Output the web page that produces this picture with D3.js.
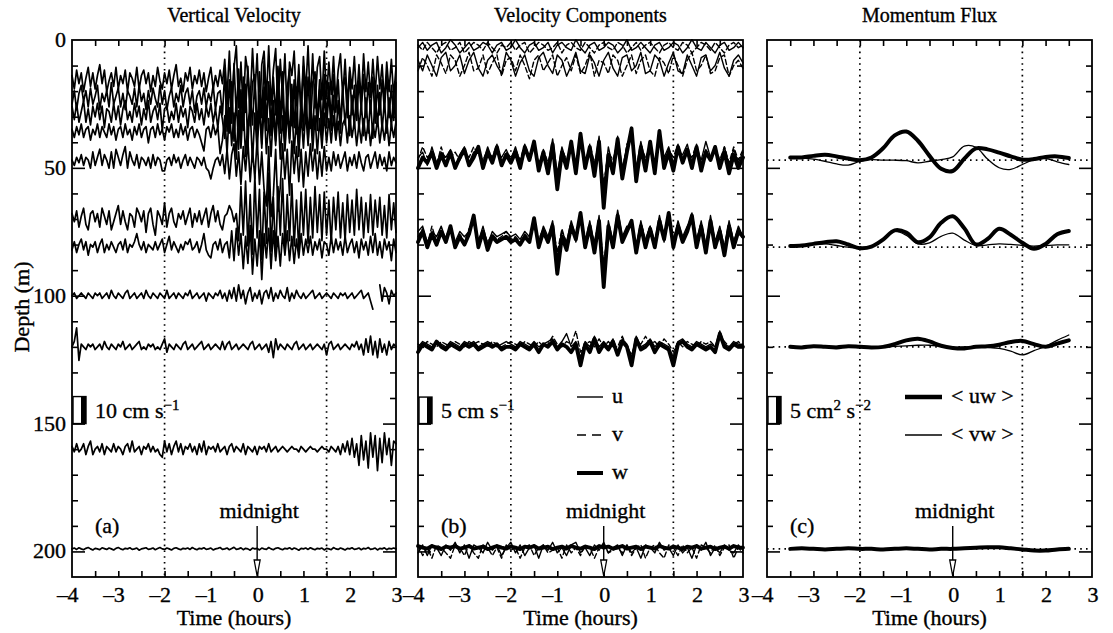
<!DOCTYPE html>
<html><head><meta charset="utf-8">
<script src="https://cdn.jsdelivr.net/npm/d3@7"></script>
<style>
body{margin:0;background:#fff;}
svg text{font-family:"Liberation Serif","Times New Roman",serif;fill:#000;stroke:#000;stroke-width:0.35px;}
</style></head><body>
<svg id="fig" width="1113" height="633"></svg>
<script>
// ---------------- labels and ticks ----------------
const timeTicks = [-4, -3, -2, -1, 0, 1, 2, 3];
const depthTicks = [0, 50, 100, 150, 200];
const guideTimes = [-2, 1.5];
const panelTitles = ["Vertical Velocity", "Velocity Components", "Momentum Flux"];
const panelTags = ["(a)", "(b)", "(c)"];

// ---------------- (a) vertical velocity, cm/s, every 0.05 h from -4 h ----------------
const wDepths = [16, 23, 29, 36, 48, 70, 81, 100, 120, 160, 199];
const w16 = [2,-3,4,-1,3,-4,1,5,-2,3,-3,2,6,-1,4,-4,0,3,-2,5,
 -3,2,-1,4,-4,3,1,-2,5,-3,2,4,-1,3,-4,2,-2,5,0,-3,
 3,-1,4,-3,2,6,-2,1,-4,3,0,5,-3,2,-1,4,-2,3,-4,1,
 5,-3,2,-2,4,-1,
 8,-6,11,-9,5,13,-10,7,-12,9,3,-8,12,-5,10,-14,6,11,-7,13,
 -9,4,12,-11,8,-6,10,-13,7,2,11,-9,6,-12,9,-4,13,-8,10,-10,
 5,9,-7,11,-6,
 7,-5,9,-8,4,10,-6,8,-9,5,-3,9,-7,6,-8,10,-4,7,-6,8,
 -5,9,-3,6,-8,7,-4,8,-6,5];
const w23 = [-2,3,-4,2,5,-1,3,-3,4,-2,1,5,-4,2,-1,3,-3,6,-2,1,
 4,-3,2,-4,3,1,-2,4,-3,5,-1,2,-4,3,-2,4,0,-3,5,-2,
 3,-4,1,4,-3,2,-1,5,-3,2,4,-2,3,-5,1,3,-2,4,-3,2,
 -1,5,-4,2,3,-6,
 10,-12,7,-9,13,-6,11,-14,8,-5,12,-10,6,9,-13,10,-7,14,-9,5,
 -11,8,-6,12,-8,10,-12,4,11,-10,7,-13,9,-5,12,-9,8,-11,6,10,
 -8,7,-12,9,-7,
 6,-8,9,-5,7,-9,4,8,-7,10,-6,5,-8,7,-4,9,-7,6,-5,8,
 -9,5,-6,7,-4,9,-7,5,-8,6];
const w29 = [3,-2,4,-3,1,5,-3,2,-4,3,-1,4,-2,3,-5,2,1,-3,4,-2,
 3,-4,2,5,-2,1,-3,4,-1,3,-4,2,-2,5,-3,1,3,-2,4,-6,
 2,3,-3,1,-2,4,-3,3,-1,2,-5,3,1,-3,4,-2,2,-4,3,-1,
 4,-3,2,-5,3,-2,
 -9,11,-7,12,-10,6,-13,9,-6,11,-12,8,-4,13,-9,7,-11,10,-6,12,
 -8,5,-10,13,-7,9,-12,6,-9,11,-5,10,-13,8,-6,12,-10,7,-8,11,
 -6,9,-10,8,-5,
 8,-6,7,-9,5,-7,9,-4,6,-8,7,-5,9,-6,4,-8,6,-7,5,-9,
 7,-4,8,-6,5,-7,6,-5,8,-4];
const w36 = [1,-2,2,-1,3,-2,1,2,-3,1,-1,3,-2,2,0,-2,3,-1,2,-3,
 1,2,-2,3,-1,1,-3,2,-1,3,-2,1,2,-4,1,2,-2,3,-1,1,
 -3,2,0,3,-2,1,-2,3,-1,2,-3,1,2,-2,1,-1,-4,-7,1,2,
 -2,3,-1,2,-8,-3,
 6,-8,9,-5,7,-10,8,-6,10,-9,4,8,-11,7,-7,9,-6,10,-8,5,
 -9,7,-5,9,-10,6,-7,8,-4,10,-8,6,-9,7,-6,8,-5,9,-7,6,
 -8,5,-6,7,-4,
 5,-4,6,-3,4,-5,3,5,-4,6,-2,4,-5,3,-4,5,-3,4,-5,3,
 -2,5,-4,3,-3,4,-5,3,-2,4];
const w48 = [1,-1,2,0,3,-1,2,1,-2,4,-1,2,5,-1,3,1,-2,4,-2,5,
 2,-1,3,6,-2,4,1,-1,3,-2,2,1,-1,2,-2,3,-1,2,1,-3,
 -3,1,2,-1,3,0,2,-2,1,3,-1,2,0,-2,2,1,-1,2,-2,-3,
 -6,-2,1,2,-1,3,
 -4,5,-6,3,7,-5,4,-8,6,-3,8,-7,5,-6,9,-8,4,-10,-16,6,
 -20,-12,5,-18,-9,7,-6,5,-12,8,-4,6,-7,5,-9,4,-5,7,-3,5,
 -6,4,-5,6,-3,
 2,-3,4,-1,3,-2,1,4,-3,2,-1,3,-2,4,0,-3,2,3,-2,1,
 4,-2,3,-1,2,-3,4,-1,2,0];
const w70 = [2,-1,3,-3,1,4,-2,-4,2,3,-1,2,-3,4,1,-2,3,-4,-1,2,
 5,-2,3,-1,-4,2,1,-3,4,2,-1,3,-5,2,4,-2,-6,3,1,-2,
 6,-3,2,4,-1,-3,2,0,3,-2,1,4,-3,2,-1,3,-2,1,4,-3,
 2,5,-1,3,-2,-4,1,2,5,3,-1,2,
 -8,12,-6,14,-10,9,-13,16,-7,11,-15,10,-9,17,-12,8,-14,12,-6,15,
 -11,9,-8,13,-10,7,-12,10,-6,11,-9,8,-7,12,-5,9,-8,10,-6,7,
 -9,8,-4,10,-7,6,-8,9,-5,7,-6,11,-4,8,-7,6,-5,9,-6,7,
 -3,8,-6,5,-7,9,-4,6,-5];
const w81 = [-1,2,-2,1,3,-1,2,-3,1,0,2,-2,1,3,-2,1,-1,2,0,-2,
 1,2,-1,3,-2,1,0,2,5,1,-1,2,-2,1,0,-1,2,-1,1,3,
 -2,1,4,-1,2,0,-2,1,-1,2,1,3,-1,0,2,-2,1,5,-1,-3,
 -4,1,2,-1,3,-2,1,2,
 -4,6,-5,7,-3,5,-8,4,-6,8,-10,3,-7,6,-12,5,-4,7,-8,6,
 -5,4,-7,5,-3,6,-5,4,-6,3,-4,5,-3,
 3,-2,4,-3,2,-1,3,-4,2,1,-3,4,-2,3,-1,2,-3,4,-2,1,
 3,-2,2,-4,3,-1,2,-3,4,-2,5,-3,2,-4,3,-1,2,-5,3,-2];
const w100 = [0,1,-1,0,1,0,-1,1,0,-1,1,0,1,-1,0,1,-1,2,0,-1,
 1,0,-1,1,2,-1,0,1,-1,0,1,-1,2,0,-1,1,0,-1,1,0,
 -1,2,-1,0,1,-1,1,0,-1,1,0,2,-1,0,1,-1,0,1,-2,1,
 0,-1,1,0,2,-1,1,-2,2,-1,3,-2,4,-1,2,-3,1,3,-2,1,
 -1,2,-3,1,2,-1,3,-2,1,-1,2,0,-1,3,-2,1,-1,2,0,-1,
 1,-1,0,1,2,-1,0,1,-1,0,1,0,-1,1,0,-1,1,0,1,-1,
 0,1,-1,0,1,2,-1,0,1,-2,-5,null,null,4,-2,3,1,-3,2,0,1];
const w120 = [0,2,7,-5,1,0,-1,1,0,1,-1,0,1,-1,2,0,-1,1,0,-1,
 1,0,2,-1,0,1,-1,0,1,2,-1,0,-1,1,0,1,-1,0,-1,1,
 3,-2,1,0,-1,1,0,-1,1,2,-1,0,1,-1,0,1,2,-1,0,1,
 -1,0,1,0,-1,2,-1,1,2,-1,0,1,-1,0,1,0,-1,1,2,-1,
 0,1,-1,0,1,-2,2,-4,3,-1,1,0,-1,1,0,-1,1,2,-1,0,
 1,-1,0,1,-1,0,1,0,-1,1,-3,1,2,-1,0,1,-1,0,1,0,
 -1,1,0,2,-1,1,-3,3,-2,4,-3,2,-4,3,-2,1,-3,2,-1,1,0];
const w160 = [1,-1,2,-1,0,2,-2,1,3,-2,0,1,-1,2,-2,1,0,-1,2,-1,
 1,0,-2,1,2,-1,3,-1,0,1,-2,1,0,2,-1,1,-1,0,-2,-3,
 3,-1,2,-2,1,3,-1,2,-2,1,0,2,-1,1,-2,2,-1,3,-2,1,
 0,1,-1,2,-1,0,1,-2,1,2,-1,1,0,-1,2,-2,1,0,-1,1,
 -2,1,0,1,-1,2,-1,0,1,-1,0,1,0,-1,0,1,0,0,-1,1,
 0,-1,0,1,0,0,-1,0,1,0,0,-1,1,0,-1,1,-2,2,-1,3,
 -2,4,-3,2,-6,5,-4,3,-7,6,-3,5,-8,4,-5,6,-2,4,-6,3,2];
const w199 = [0,0.3,-0.2,0.4,0,-0.3,0.2,0.5,0,-0.4,
 0.2,0,-0.3,0.4,0.1,-0.2,0.3,0,-0.4,0.2,
 0.5,0,-0.3,0.2,0,0.4,-0.2,0,0.3,-0.5,
 0,0.2,0.4,-0.2,0,0.3,-0.3,0.1,0.5,0,
 -0.2,0.3,0,-0.4,0.2,0.4,0,-0.3,0.2,0,
 0.3,-0.2,0.5,0,-0.3,0.2,0,0.4,-0.2,0,
 0.3,-0.4,0,0.2,0.5,-0.2,0,0.3,-0.3,0.1,
 0.6,-0.2,0,0.4,-0.3,0.2,0,-0.5,0.3,0,
 0.2,-0.4,0.3,0,-0.2,0.5,0,-0.3,0.2,0.4,
 0,-0.3,0.2,0,0.4,-0.2,0.3,0,-0.5,0.2,
 0,0.3,-0.2,0.4,0,-0.3,0.2,0,0.3,-0.4,
 0.2,0,-0.3,0.5,0,-0.2,0.3,0,-0.4,0.2,
 0,0.4,-0.2,0,0.3,-0.3,0.2,0,0.5,-0.2,
 0,0.3,-0.4,0.2,0,0.4,-0.3,0.2,0,0.3,0];
const wSeries = [w16, w23, w29, w36, w48, w70, w81, w100, w120, w160, w199];

// ---------------- (b) velocity components, cm/s, every 0.1 h from -4 h ----------------
const compDepths = [48, 79, 120, 198.5];
const u48 = [1,2,-0.5,3,0,2,1,2.5,-1,1.5, 3,0,2,2.5,0,3,0.5,2,1,2.5,
 0.5,3,0,2,1.5,3,0,1.5,-0.5,4.5, -2,3,0,3,-1,4,0,2.5,-1,5,
 -5,3,-1,5,-1,3,6,-1,4,0, 3.5,-0.5,5,1,3,0,2,1.5,3.5,0,
 2.5,0.5,4,1,2,0,3,-0.5,2.5,0,2];
const v48 = [0.5,3,1,2,-0.5,3,0,1,2,0.5, 2,1,3,1.5,0.5,2.5,1,3.5,0,2,
 1,2.5,0.5,3.5,1,3,-0.5,2.5,0,3, -3,2.5,0.5,3.5,-1,5,-0.5,3.5,0,3,
 -4,2,0.5,4,-2,3.5,5,-2,3,1, 3,0,4.5,0.5,2.5,1,3.5,0.5,2,1,
 3.5,0,2.5,1,3,0.5,3,0,3,0.5,2.5];
const wc48 = [-1,1,0,2,-1,1.5,-0.5,2,-1,1, 2.5,-0.5,1,3,-1,2,0,3,-0.5,1.5,
 0,2,-1,3,0.5,4,-1.5,2,-2,3.5, -5,2,-1,4,-2,5.5,-1,3,-2.5,4,
 -8.5,1.5,-2,4.5,-3,2,6.5,-3.5,3,-1.5, 4,-2,6,-1,2,-1.5,3,0,2.5,-1,
 3,-1.5,2,0.5,3,-1,2,-2,1.5,-1,1];
const u79 = [2,3,0,2,1,3,0.5,2,0,2, 1,2,4,0,3,-0.5,2,1,1.5,2,
 1,1.5,0.5,2,1,3.5,0,3,1,4, -3,2,0,4,1,5,0,4,-1,5,
 -6,4,0,6,1,3,3,-1,4,0, 3,0,5,1,4,0,4,1,3,4.5,
 0,4,-1,5,0,3,-1,4,0,3,1];
const v79 = [1,2.5,-0.5,3,0,2,1,3,-0.5,1.5, 0,2.5,3.5,0.5,2,0,1.5,0.5,1,2,
 0.5,1,0,1.5,0.5,3,0.5,2.5,0,3.5, -2,2.5,-0.5,3.5,0,4.5,-0.5,3,0,4,
 -4,3,0,5,0.5,2.5,3.5,-1,3.5,0.5, 3,-0.5,4.5,0,5,0.5,3.5,0.5,2.5,5.5,
 0.5,3.5,-0.5,4,0,2.5,-1,3.5,0,2.5,0.5];
const wc79 = [0,2,-1,1.5,-0.5,2,0,3,-1,1, -0.5,1.5,5,-1,2,-1.5,1,0,0.5,1,
 0,0.5,-0.5,1,0,4.5,-1,2,0,3, -6,1,-1.5,3,0.5,5.5,-1,3,-2,4,
 -8.5,3,-1,5,0,2,4,-2,3,-1, 2.5,-1,4,0.5,5.5,-1,3,0,2,5,
 -1,3,-2,4,-1,2,-2.5,3,-1,2,1];
const u120 = [0,1,0.5,0,1,0.5,0,1,0.5,0, 1,0.5,1,0,0.5,1,0.5,0,0.5,1,
 0.5,0,1,0.5,0,1,0,0.5,1,1.5, 0,1,2.5,0,1,-2,1,0,2,0,
 1,0,1.5,-1,1.5,0.5,-2,2,0,0.5, 1.5,0,1,0.5,0,-2,1,1.5,0.5,0,
 1,0.5,0,0.5,0,3,0.5,0,1,0.5,0.5];
const v120 = [0.5,0,1,0.5,0,1,0.5,0,1,0.5, 0,1,0.5,1,0.5,0,1,0.5,0,0.5,
 1,0.5,0,1,0.5,0,1,0,0.5,2, 0.5,0,1,0.5,3,-1,0.5,1,0,1.5,
 0,1,0,0,2,0,-1.5,1,0.5,2, 0.5,1,0,1.5,0.5,-1,1,0,1,0.5,
 0,1,0.5,1,0,2,1,0,0.5,1,0];
const wc120 = [-1,0.5,0,-0.5,1,0,-0.5,0.5,0,-0.5, 0.5,0,0.5,-0.5,0,0.5,0,0.5,-0.5,0,
 0,-0.5,0.5,0,-0.5,0.5,-1,0.5,0,1, -0.5,0.5,0,-1,0.5,-3.5,0.5,-1,1.5,-1,
 0.5,-0.5,1,-1.5,1,0,-3.5,1.5,-0.5,0, 1,-1,0.5,0,-0.5,-3.5,0.5,1,0,-0.5,
 0.5,0,-0.5,0,-1,2.5,0,-0.5,0.5,0,0];
const u199 = [-1,0.5,-1.5,0.5,0,-1.5,0.5,-0.5,1,-1, 0.5,-2,0.5,0,-1,1,-0.5,0.5,-1.5,0,
 1,-1,0.5,-1.5,0,0.5,-2,0.5,-0.5,1, -1,0,-1.5,0.5,1,-1,0,-1.5,0.5,-0.5,
 1,-1,0,0.5,-1.5,0.5,-1,0,-2,0.5, 0,-1,1,-0.5,0,-1.5,0.5,-1,0,-2,
 0.5,-0.5,1,-1.5,0,-1,0.5,-0.5,-1,0.5,-0.5];
const v199 = [0.5,-1.5,0,-2,0.5,0,-1,-2,0.5,0, -1.5,0.5,-1,-2,0.5,0,-1.5,0,-2,0.5,
 -0.5,0,-2,0,0.5,-1.5,0,0.5,-1,-0.5, 0,-2,0.5,-1,0,-1.5,0.5,0,-2,0,
 0.5,-1,-0.5,0,-1,0.5,-1.5,0,0.5,-2, 0,0.5,-1,-2,0.5,0,-1.5,0.5,-1,0,
 -2,0.5,0,-1,0.5,-1.5,0,0.5,-2,0,-1];
const wc199 = [0.3,0,-0.2,0.3,0,-0.3,0.2,0,0.3,-0.2, 0,0.3,-0.2,0,0.2,-0.3,0,0.3,0,-0.2,
 0.2,0,-0.3,0.2,0,0.3,-0.2,0,0.2,-0.3, 0,0.2,-0.2,0.3,0,-0.2,0.2,0,-0.3,0.3,
 0,0.2,-0.2,0,0.3,-0.2,0,0.2,-0.3,0.2, 0,-0.2,0.3,0,-0.2,0.2,0,-0.3,0.2,0,
 0.3,-0.2,0,0.2,-0.3,0,0.2,-0.2,0.3,0,0];
// near-surface records (horizontal components only)
const surfDepths = [3, 10];
const uS3 = [0,1,-0.5,0.5,1,-1,0,1.5,0.5,-1, 0,1,-0.5,0,1,0.5,-1,0.5,1,-0.5,
 0,1.5,0,-1,0.5,1,-0.5,0,1,-1, 0.5,1,0,-0.5,1.5,0,-1,0.5,1,-0.5,
 0,1,0.5,-1,0,1.5,-0.5,0,1,0, -1,0.5,1,-0.5,0,1,0.5,-1,0,1.5,
 0,-0.5,1,0,-1,0.5,1,-0.5,0,1,0];
const vS3 = [0.5,-0.5,1,0,-1,0.5,1,-0.5,0,1, -1,0,1,0.5,-0.5,1,0,-1,0.5,0,
 1,-0.5,0.5,1,-1,0,1,0.5,-0.5,0, 1,-1,0.5,1,0,-0.5,1,0,-1,0.5,
 1,0,-0.5,1,0.5,-1,0,1,-0.5,0.5, 1,0,-1,0.5,1,0,-0.5,1,0.5,-1,
 0,1,0.5,-0.5,1,0,-1,0.5,1,0,0.5];
const uS10 = [1,-1,2,0,-2,1.5,2.5,-1,0,2, -1.5,1,2.5,-0.5,-2,1,2,0,-1.5,2.5,
 1,-2,0.5,2,-1,-2,1.5,2.5,0,-1.5, 2,1,-2,0,2.5,-1,-1.5,2,0.5,-2,
 1,2.5,-0.5,-2,1.5,2,-1,0,2.5,-1.5, -1,2,1,-2,0.5,2.5,-1,-1.5,2,0,
 -2,1.5,2,-1,0,2.5,-0.5,-2,1,2,0.5];
const vS10 = [-1,1.5,0,-2,2,0.5,-1.5,2,1,-2, 0,2.5,-1,-0.5,2,-1.5,0.5,2,-2,1,
 1.5,-1,2,0,-2.5,1,2,-1,0.5,2, -2,0,1.5,-1,2,-1.5,0,2.5,-2,1,
 0.5,-1.5,2,1,-2,0,2,-1.5,1,2, -1,-2,1.5,0.5,-1.5,2,0,-2,1,2.5,
 -1,0,2,-1.5,-1,1.5,2,-2,0,1,-0.5];
const uComp = [u48, u79, u120, u199];
const vComp = [v48, v79, v120, v199];
const wComp = [wc48, wc79, wc120, wc199];

// ---------------- (c) momentum flux, cm^2/s^2, every 0.25 h from -3.5 h ----------------
const fluxDepths = [47, 81, 120, 199];
const uw47 = [0.5,0.5,0.8,1.0,0.7,0.3,0.0,0.5,2.2,4.6,5.3,3.6,0.8,-1.6,-2.0,0.3,2.2,2.0,1.4,0.7,0.1,0.2,0.6,0.7,0.4];
const vw47 = [0.5,0.4,0.2,-0.2,-0.7,-0.9,-0.2,0.1,0.0,0.0,-0.1,-0.5,-0.2,0.1,0.6,2.6,2.4,0.2,-1.4,-1.7,-0.8,0.1,0.3,-0.3,-0.8];
const uw81 = [0.2,0.3,0.6,0.9,1.1,0.5,-0.2,0.1,1.4,3.1,2.7,0.9,1.8,4.5,5.7,3.5,0.5,1.5,3.4,2.3,0.8,-0.3,0.6,2.4,3.0];
const vw81 = [0.2,0.3,0.5,0.6,0.3,0.0,-0.2,0.2,1.5,2.9,2.2,0.6,0.8,2.0,2.6,1.3,0.3,0.4,0.6,0.5,0.3,0.2,0.3,0.4,0.4];
const uw120 = [0,-0.1,0.1,0,-0.1,0.1,0,-0.1,0,0.5,1.2,1.5,1.0,0.2,-0.2,-0.3,0,0.1,0.4,0.9,1.1,0.5,0,0.6,1.2];
const vw120 = [0,0,-0.1,0,0.1,0,-0.1,0,0,0.1,0.2,0.3,0.3,0.1,-0.1,0,0,-0.1,-0.3,-0.8,-1.5,-0.7,0.1,1.2,2.2];
const uw199 = [0,0.1,0,-0.1,0,0.1,0,0,-0.1,0,0.1,0,-0.1,0,0,0.1,0.2,0.3,0.3,0.1,-0.1,-0.3,-0.3,-0.1,0];
const vw199 = [0,0,0.1,0,-0.1,0,0.1,0,0,-0.1,0,0.1,0,0,0.1,0,0.1,0.2,0.2,0,-0.2,-0.2,-0.1,0,0];
const uwFlux = [uw47, uw81, uw120, uw199];
const vwFlux = [vw47, vw81, vw120, vw199];

// ---------------- layout ----------------
const svg = d3.select("#fig");
const TOP = 40, BOTTOM = 577;
const frames = [[72, 396], [418, 743], [767, 1092]];
const yDepth = d3.scaleLinear().domain([0, 210]).range([TOP, BOTTOM]);
const xs = frames.map(f => d3.scaleLinear().domain([-4, 3]).range(f));
const ampA = d3.scaleLinear().domain([0, 10]).range([0, 27]);   // 10 cm/s bar
const ampB = d3.scaleLinear().domain([0, 5]).range([0, 26.5]);  // 5 cm/s bar
const ampC = d3.scaleLinear().domain([0, 5]).range([0, 27]);    // 5 cm2/s2 bar
const FS = 22;

function trace(g, x, amp, depth, vals, t0, dt, width, dash, curve) {
  const line = d3.line()
    .defined(d => d != null)
    .x((d, i) => x(t0 + i * dt))
    .y(d => yDepth(depth) - amp(d))
    .curve(curve || d3.curveLinear);
  g.append("path").attr("d", line(vals))
    .attr("fill", "none").attr("stroke", "#000")
    .attr("stroke-width", width)
    .attr("stroke-linejoin", "round").attr("stroke-linecap", "round")
    .attr("stroke-dasharray", dash || null);
}

frames.forEach((f, p) => {
  const x = xs[p];
  const g = svg.append("g");
  // vertical guide lines
  guideTimes.forEach(t => g.append("line")
    .attr("x1", x(t)).attr("x2", x(t)).attr("y1", TOP).attr("y2", BOTTOM)
    .attr("stroke", "#000").attr("stroke-width", 1.7).attr("stroke-dasharray", "1.6,4.2"));
  // axes (ticks pointing inward)
  const minorX = d3.range(-3.5, 3, 0.5);
  g.append("g").attr("transform", `translate(0,${BOTTOM})`)
    .call(d3.axisBottom(x).tickValues(minorX).tickSizeInner(-6).tickSizeOuter(0).tickFormat(""));
  g.append("g").attr("transform", `translate(0,${TOP})`)
    .call(d3.axisTop(x).tickValues(minorX).tickSizeInner(-6).tickSizeOuter(0).tickFormat(""));
  const minorY = d3.range(10, 210, 10).filter(d => d % 50 !== 0);
  const majorY = [50, 100, 150, 200];
  g.append("g").attr("transform", `translate(${f[0]},0)`)
    .call(d3.axisLeft(yDepth).tickValues(minorY).tickSizeInner(-6).tickSizeOuter(0).tickFormat(""));
  g.append("g").attr("transform", `translate(${f[0]},0)`)
    .call(d3.axisLeft(yDepth).tickValues(majorY).tickSizeInner(-13).tickSizeOuter(0).tickFormat(""));
  g.append("g").attr("transform", `translate(${f[1]},0)`)
    .call(d3.axisRight(yDepth).tickValues(minorY).tickSizeInner(-6).tickSizeOuter(0).tickFormat(""));
  g.append("g").attr("transform", `translate(${f[1]},0)`)
    .call(d3.axisRight(yDepth).tickValues(majorY).tickSizeInner(-13).tickSizeOuter(0).tickFormat(""));
  g.selectAll(".domain").remove();
  g.selectAll(".tick line").attr("stroke", "#000").attr("stroke-width", 1.6);
  // frame
  g.append("rect").attr("x", f[0]).attr("y", TOP).attr("width", f[1] - f[0]).attr("height", BOTTOM - TOP)
    .attr("fill", "none").attr("stroke", "#000").attr("stroke-width", 1.8);
  // time labels
  timeTicks.forEach(t => {
    g.append("text").attr("x", x(t) + 1).attr("y", 602).attr("text-anchor", "middle")
      .attr("font-size", FS).text(Math.abs(t));
    if (t < 0) g.append("text").attr("x", x(t) - 4).attr("y", 602).attr("text-anchor", "end")
      .attr("font-size", FS).text("\u2013");
  });
  g.append("text").attr("x", (f[0] + f[1]) / 2).attr("y", 625).attr("text-anchor", "middle")
    .attr("font-size", FS).text("Time (hours)");
  g.append("text").attr("x", (f[0] + f[1]) / 2).attr("y", 22).attr("text-anchor", "middle")
    .attr("font-size", 20).text(panelTitles[p]);
  g.append("text").attr("x", f[0] + 23).attr("y", 533).attr("font-size", FS).text(panelTags[p]);
  // midnight marker
  g.append("text").attr("x", x(0) + 2).attr("y", 518).attr("text-anchor", "middle")
    .attr("font-size", FS).text("midnight");
  g.append("line").attr("x1", x(0)).attr("x2", x(0)).attr("y1", 526).attr("y2", 562)
    .attr("stroke", "#000").attr("stroke-width", 1.4);
  g.append("path").attr("d", `M${x(0) - 3},560 L${x(0) + 3},560 L${x(0)},${BOTTOM - 1} Z`)
    .attr("fill", "#fff").attr("stroke", "#000").attr("stroke-width", 1.3);
});

// depth labels for (a)
depthTicks.forEach(d => svg.append("text").attr("x", 66).attr("y", yDepth(d) + 7)
  .attr("text-anchor", "end").attr("font-size", FS).text(d));
svg.append("text").attr("transform", `translate(29,307) rotate(-90)`).attr("text-anchor", "middle")
  .attr("font-size", FS).text("Depth (m)");

// scale bars
function scaleBar(f, amp, val, label, sup1, mid, sup2) {
  const yb = yDepth(150), h = amp(val);
  svg.append("rect").attr("x", f[0] + 1).attr("y", yb - h).attr("width", 13).attr("height", h)
    .attr("fill", "#fff").attr("stroke", "#000").attr("stroke-width", 1.4);
  svg.append("rect").attr("x", f[0] + 9).attr("y", yb - h).attr("width", 5).attr("height", h).attr("fill", "#000");
  const t = svg.append("text").attr("x", f[0] + 23).attr("y", yb - 6).attr("font-size", FS);
  t.append("tspan").text(label);
  if (sup1) t.append("tspan").attr("dy", -8).attr("font-size", 15).text(sup1);
  if (mid) t.append("tspan").attr("dy", 8).text(mid);
  if (sup2) t.append("tspan").attr("dy", -8).attr("font-size", 15).text(sup2);
}
scaleBar(frames[0], ampA, 10, "10 cm s", "\u22121");
scaleBar(frames[1], ampB, 5, "5 cm s", "\u22121");
scaleBar(frames[2], ampC, 5, "5 cm", "2", " s", "\u22122");

// (a) traces
const gA = svg.append("g");
wSeries.forEach((s, k) => trace(gA, xs[0], ampA, wDepths[k], s, -4, 0.05, 1.7));

// (b) traces
const gB = svg.append("g");
surfDepths.forEach((d, k) => {
  trace(gB, xs[1], ampB, d, [uS3, uS10][k], -4, 0.1, 1.4);
  trace(gB, xs[1], ampB, d, [vS3, vS10][k], -4, 0.1, 1.4, "5,3");
});
compDepths.forEach((d, k) => {
  trace(gB, xs[1], ampB, d, wComp[k], -4, 0.1, 3.8);
  trace(gB, xs[1], ampB, d, uComp[k], -4, 0.1, 1.4);
  trace(gB, xs[1], ampB, d, vComp[k], -4, 0.1, 1.4, "5,3");
});

// (c) traces with zero lines
const gC = svg.append("g");
fluxDepths.forEach((d, k) => {
  gC.append("line").attr("x1", frames[2][0]).attr("x2", frames[2][1])
    .attr("y1", yDepth(d)).attr("y2", yDepth(d))
    .attr("stroke", "#000").attr("stroke-width", 1.7).attr("stroke-dasharray", "1.6,4.2");
  trace(gC, xs[2], ampC, d, vwFlux[k], -3.5, 0.25, 1.3, null, d3.curveCatmullRom);
  trace(gC, xs[2], ampC, d, uwFlux[k], -3.5, 0.25, 4, null, d3.curveCatmullRom);
});

// legends
function legend(x0, x1, y, w, dash, label) {
  svg.append("line").attr("x1", x0).attr("x2", x1).attr("y1", y).attr("y2", y)
    .attr("stroke", "#000").attr("stroke-width", w).attr("stroke-dasharray", dash || null);
  svg.append("text").attr("x", x1 + 9).attr("y", y + 6).attr("font-size", FS).text(label);
}
legend(577, 603, 397, 1.4, null, "u");
legend(577, 603, 435, 1.4, "9,6", "v");
legend(577, 603, 473, 4, null, "w");
legend(905, 942, 397, 4.5, null, "< uw >");
legend(905, 942, 435, 1.4, null, "< vw >");
</script>
</body></html>
